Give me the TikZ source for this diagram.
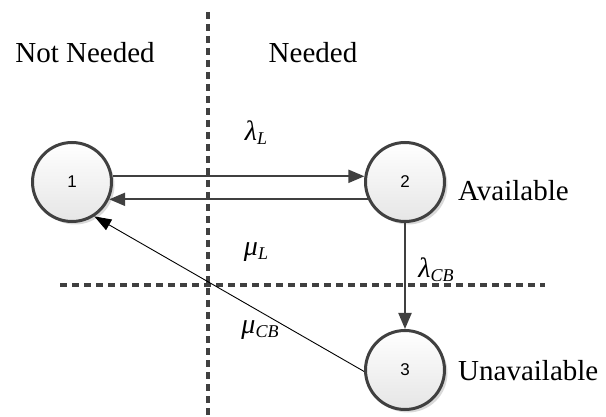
\documentclass[tikz,border=0pt]{standalone}
\usepackage{fontspec}
\setmainfont{Liberation Serif}
\newfontfamily\numfont{Liberation Sans}
\usetikzlibrary{arrows.meta,shadows}
\newcommand{\sublab}[2]{{\itshape #1}\raisebox{-0.3ex}{\fontsize{18}{18}\selectfont\itshape #2}}
\begin{document}
\begin{tikzpicture}[x=1pt,y=-1pt,
  state/.style={circle,draw=black!75,line width=3pt,minimum size=79pt,inner sep=0pt,
    top color=white,bottom color=black!10,
    drop shadow={shadow xshift=3pt,shadow yshift=-3pt,opacity=0.15,fill=black},
    font=\numfont\fontsize{17}{17}\selectfont},
  divider/.style={draw=black!75,line width=3.5pt,dash pattern=on 7pt off 5pt},
  big/.style={font=\fontsize{29}{29}\selectfont,inner sep=0pt},
  rate/.style={font=\fontsize{28}{28}\selectfont,inner sep=0pt},
  flow/.style={draw=black!75,line width=2pt,-{Triangle[length=16pt,width=13pt]}},
  thinflow/.style={draw=black,line width=0.9pt,-{Triangle[length=17pt,width=12pt]}}
]
\useasboundingbox (0,0) rectangle (606,417);
% dividers
\coordinate (vtop) at (208,12);
\coordinate (vbot) at (208,417);
\coordinate (hl) at (60,285);
\coordinate (hr) at (545,285);
\draw[divider] (vtop) -- (vbot);
\draw[divider] (hl) -- (hr);
% states
\node[state] (c1) at (72,182) {1};
\node[state] (c2) at (405,182) {2};
\node[state] (c3) at (405,370) {3};
% arrows
\draw[flow] (c1.8) -- (c2.172);
\draw[flow] (c2.-155) -- (c1.-25);
\draw[flow] (c2.south) -- (c3.north);
\draw[thinflow] (c3.182) -- (c1.-57);
% labels
\node[big,anchor=base] (nn) at (85,63) {Not Needed};
\node[big,anchor=base] (nd) at (313,63) {Needed};
\node[big,anchor=base west] (av) at (458,201) {Available};
\node[big,anchor=base west] (un) at (458,380) {Unavailable};
\node[rate] (ll) at (256,133) {\sublab{λ}{L}};
\node[rate] (ml) at (256,252) {\sublab{μ}{L}};
\node[rate] (lcb) at (436,270) {\sublab{λ}{CB}};
\node[rate] (mcb) at (260,330) {\sublab{μ}{CB}};
\end{tikzpicture}
\end{document}
